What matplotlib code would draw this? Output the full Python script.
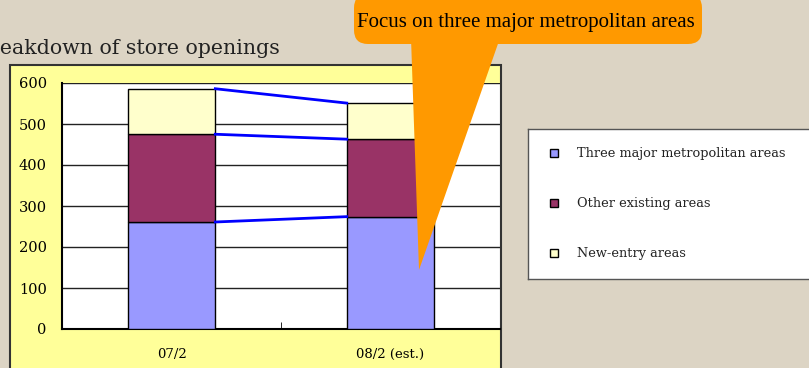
import matplotlib.pyplot as plt
from matplotlib.patches import FancyBboxPatch, Polygon, Rectangle
from matplotlib.transforms import IdentityTransform
import numpy as np

# data
periods = ['07/2', '08/2 (est.)']
series = ['Three major metropolitan areas', 'Other existing areas', 'New-entry areas']
metro = [261, 274]
other = [214, 189]
new_entry = [111, 88]
colors = ['#9999ff', '#993366', '#ffffcc']

W, H = 809, 368
fig = plt.figure(figsize=(W / 100, H / 100), dpi=100, facecolor='#dcd4c4')
px = IdentityTransform()


def fx(x):
    return x / W


def fy(y):
    return 1 - y / H


def d(x, y):
    # pixel coords (top-left origin) -> display coords
    return (x, H - y)


# chart area (yellow)
fig.patches.append(Rectangle(d(10, 375), 491, 310, transform=px,
                             facecolor='#ffff99', edgecolor='#333333', lw=1.5, zorder=-1))

# title, partly cut off on the left like the original
fig.text(fx(280), fy(54), 'Breakdown of store openings', ha='right', va='baseline',
         fontsize=14.8, family='DejaVu Serif', color='#222222')

# plot area
ax = fig.add_axes([fx(62), fy(329), fx(500) - fx(62), fy(83) - fy(329)])
ax.set_facecolor('white')
x = np.arange(len(periods))
bottom = np.zeros(len(periods))
tops = []
for vals, c in zip([metro, other, new_entry], colors):
    ax.bar(x, vals, 0.4, bottom=bottom, color=c, edgecolor='black', lw=1, zorder=3)
    bottom = bottom + np.array(vals)
    tops.append(bottom.copy())

# series lines between the stacks
for t in tops:
    ax.plot([x[0] + 0.2, x[1] - 0.2], t, color='#0000ff', lw=2, zorder=4)

ax.set_xlim(-0.5, 1.5)
ax.set_ylim(0, 600)
ax.set_yticks(range(0, 601, 100))
ax.yaxis.grid(True, color='#222222', lw=1)
ax.set_axisbelow(True)
ax.set_xticks(x)
ax.set_xticklabels(periods, family='DejaVu Serif', fontsize=9.5)
ax.set_xticks([0.5, 1.5], minor=True)
ax.tick_params(axis='x', which='major', length=0, pad=14)
ax.tick_params(axis='x', which='minor', direction='in', length=5, color='black')
ax.tick_params(axis='y', length=0, pad=11, labelsize=10.5)
for lab in ax.get_yticklabels():
    lab.set_family('DejaVu Serif')
ax.spines['top'].set_visible(False)
ax.spines['left'].set_linewidth(1.5)
ax.spines['bottom'].set_linewidth(1.5)
ax.spines['right'].set_color('#333333')

# legend box
lax = fig.add_axes([fx(528), fy(279), fx(812) - fx(528), fy(129) - fy(279)])
lax.set_xlim(0, 284)
lax.set_ylim(150, 0)
lax.set_xticks([])
lax.set_yticks([])
for s in lax.spines.values():
    s.set_color('#555555')
    s.set_linewidth(1)
for i, (name, c) in enumerate(zip(series, colors)):
    yy = 24 + 50 * i
    lax.add_patch(Rectangle((22, yy - 4), 8, 8, facecolor=c, edgecolor='black', lw=1))
    lax.text(49, yy, name, va='center', ha='left', fontsize=9.3, family='DejaVu Serif',
             color='#222222')

# orange callout
fig.patches.append(Polygon([d(411, 38), d(500, 38), d(419, 270)], closed=True,
                           transform=px, facecolor='#ff9900', edgecolor='none', zorder=5))
fig.patches.append(FancyBboxPatch(d(354, 44), 348, 50, boxstyle='round,pad=0,rounding_size=14',
                                  transform=px, facecolor='#ff9900', edgecolor='none', zorder=5))
fig.text(fx(526), fy(23), 'Focus on three major metropolitan areas', ha='center', va='center',
         fontsize=15, family='Liberation Serif', color='black', zorder=6)

plt.savefig('out.png', dpi=100, facecolor=fig.get_facecolor())
